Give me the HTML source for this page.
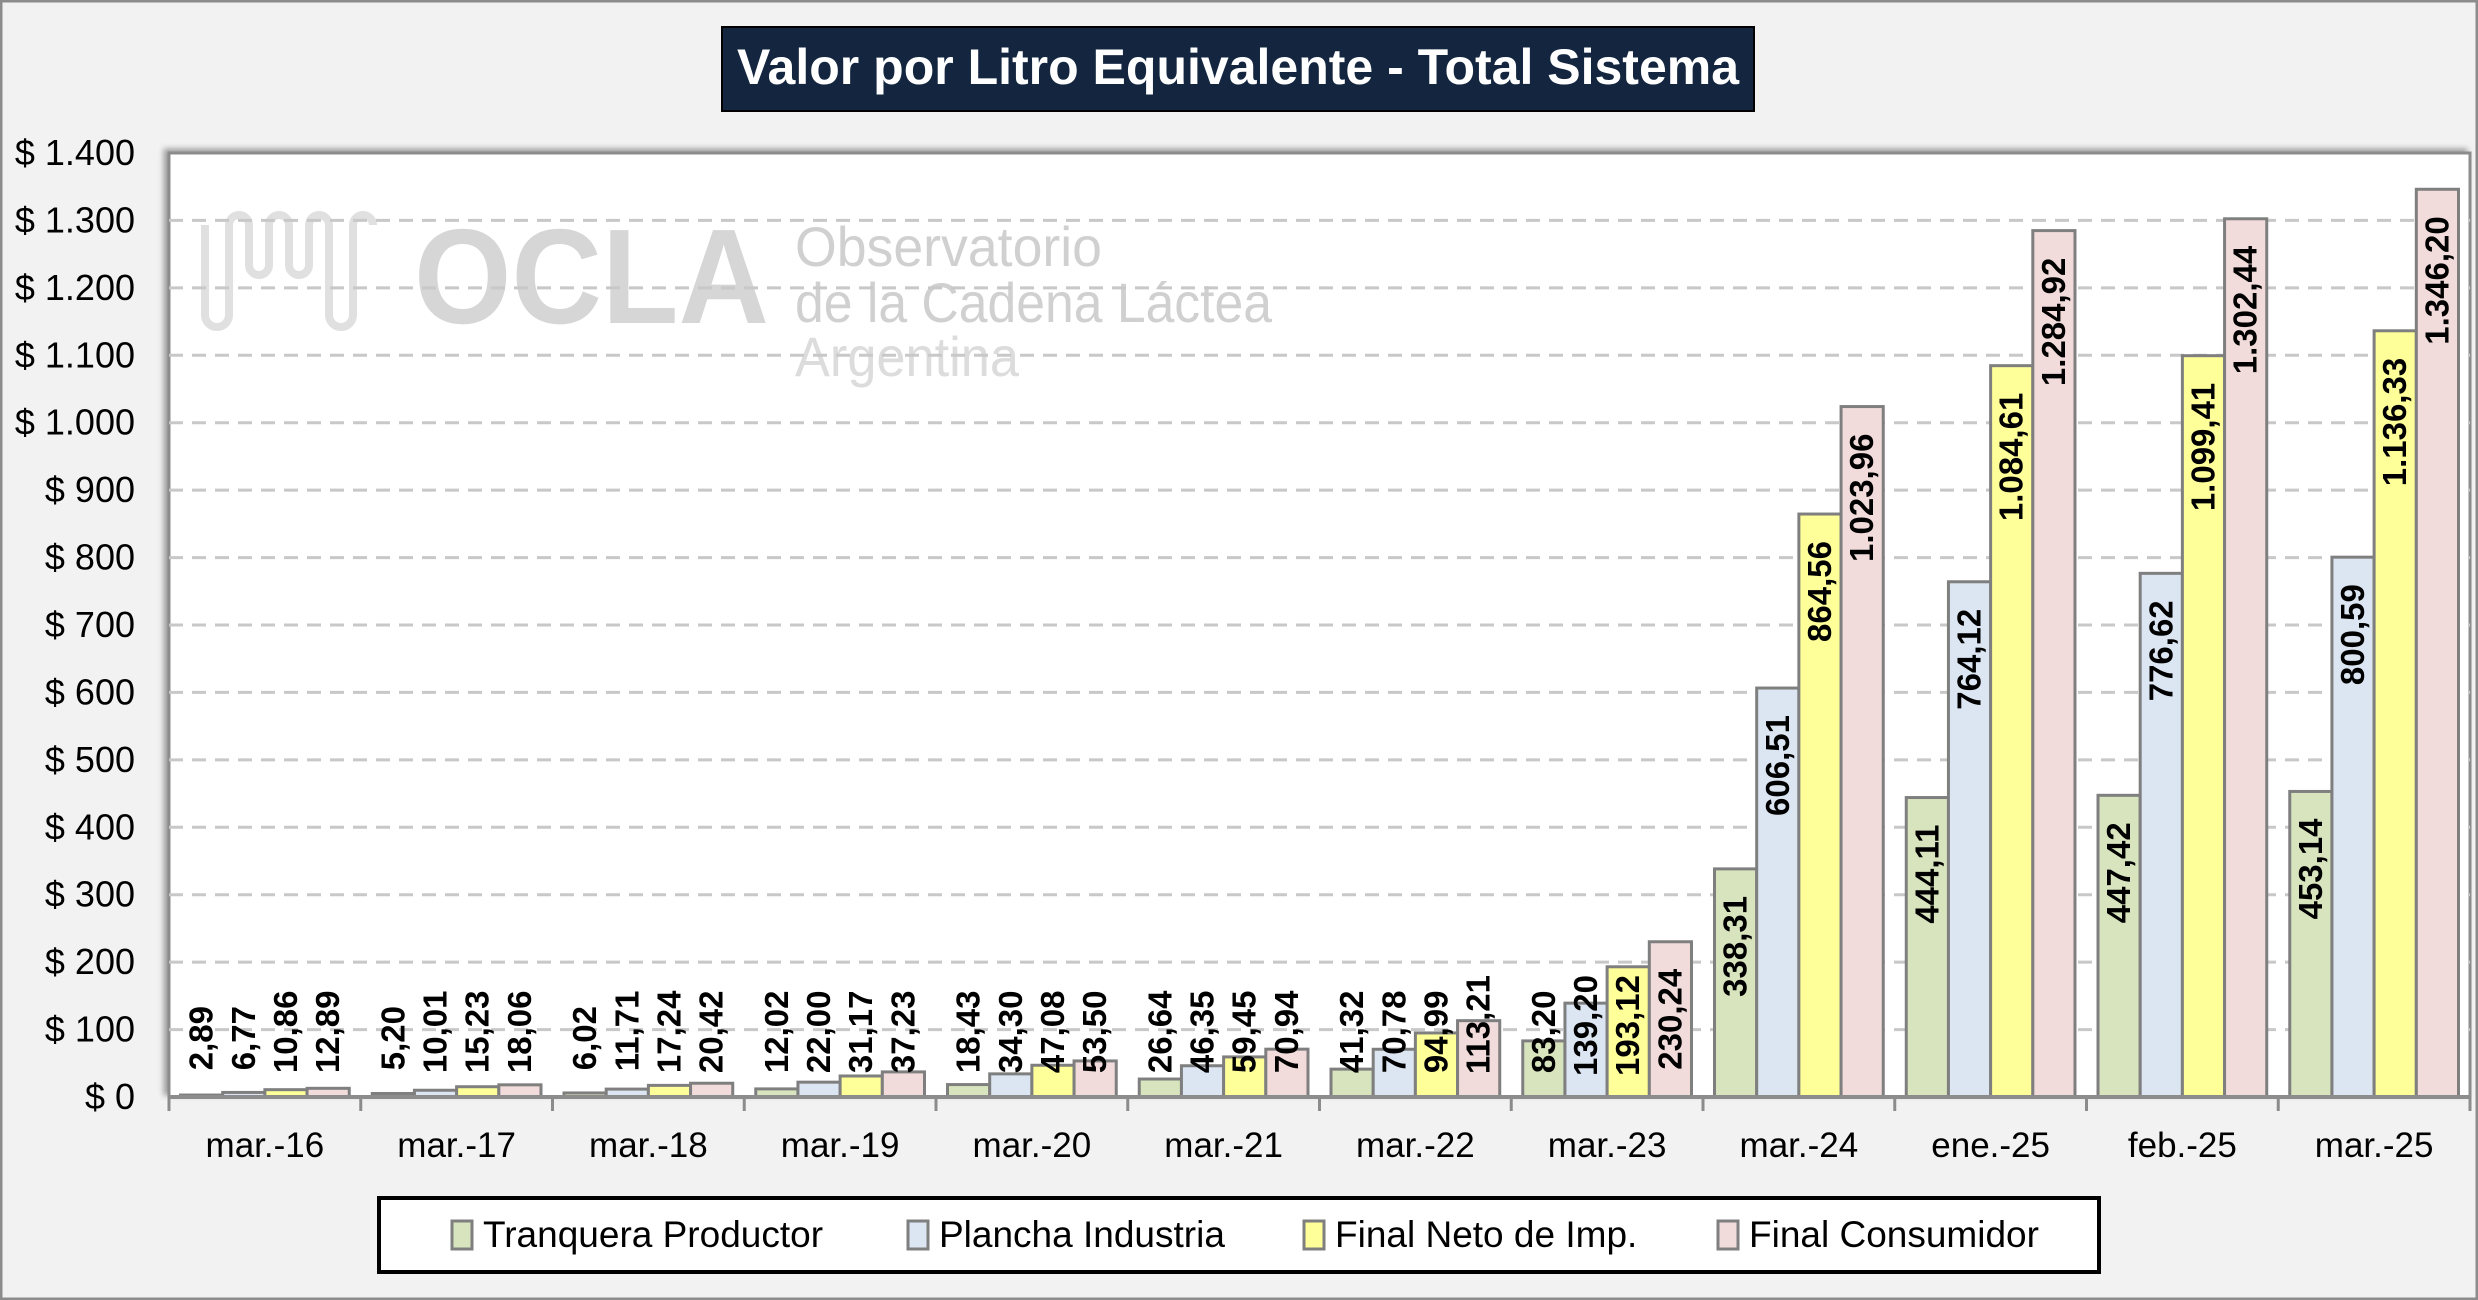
<!DOCTYPE html>
<html><head><meta charset="utf-8"><style>
html,body{margin:0;padding:0;background:#f2f2f2}
svg{display:block}
text{font-family:"Liberation Sans Narrow","Liberation Sans",sans-serif}
</style></head><body>
<svg id="chart" width="2478" height="1300" viewBox="0 0 2478 1300" xmlns="http://www.w3.org/2000/svg">
<defs><filter id="sh" x="-5%" y="-5%" width="110%" height="110%"><feDropShadow dx="-4" dy="-3" stdDeviation="3" flood-color="#000" flood-opacity="0.35"/></filter></defs>
<rect x="1" y="1" width="2476" height="1298" fill="#f2f2f2" stroke="#8c8c8c" stroke-width="3"/>
<g>
<rect x="722" y="27" width="1032" height="84" fill="#13253f" stroke="#000" stroke-width="2"/>
<text x="1238" y="84" text-anchor="middle" fill="#fff" font-size="50" font-weight="bold">Valor por Litro Equivalente - Total Sistema</text>
</g>
<rect x="169" y="153" width="2301" height="944" fill="#fff" stroke="#8c8c8c" stroke-width="3" filter="url(#sh)"/>
<g id="watermark" fill="#d9d9d9">
<path d="M205 225 v90 a12 12 0 0 0 24 0 v-90 a10 10 0 0 1 20 0 v40 a10 10 0 0 0 20 0 v-40 a10 10 0 0 1 20 0 v40 a10 10 0 0 0 20 0 v-40 a10 10 0 0 1 20 0 v90 a12 12 0 0 0 24 0 v-90 a10 10 0 0 1 20 0" fill="none" stroke="#e0e0e0" stroke-width="8"/>
<text x="414" y="323" font-size="135" font-weight="bold" font-family="Liberation Sans,sans-serif" fill="#d6d6d6" textLength="355" lengthAdjust="spacingAndGlyphs">OCLA</text>
<text x="795" y="266" font-size="56" fill="#d0d0d0" textLength="307" lengthAdjust="spacingAndGlyphs">Observatorio</text>
<text x="795" y="322" font-size="56" fill="#d0d0d0" textLength="477" lengthAdjust="spacingAndGlyphs">de la Cadena Láctea</text>
<text x="795" y="376" font-size="56" fill="#dcdcdc" textLength="224" lengthAdjust="spacingAndGlyphs">Argentina</text>
</g>
<g id="grid"></g><g id="bars"></g><g id="labels"></g><g id="axes"></g>
<g>
<rect x="379" y="1198" width="1720" height="74" fill="#fff" stroke="#000" stroke-width="4"/>
<g><rect x="452" y="1221" width="20" height="28" fill="#d7e4bd" stroke="#7f7f7f" stroke-width="3"/><text x="483" y="1247" font-size="37">Tranquera Productor</text></g>
<g><rect x="908" y="1221" width="20" height="28" fill="#dce6f2" stroke="#7f7f7f" stroke-width="3"/><text x="939" y="1247" font-size="37">Plancha Industria</text></g>
<g><rect x="1304" y="1221" width="20" height="28" fill="#ffff99" stroke="#7f7f7f" stroke-width="3"/><text x="1335" y="1247" font-size="37">Final Neto de Imp.</text></g>
<g><rect x="1718" y="1221" width="20" height="28" fill="#f2dcdb" stroke="#7f7f7f" stroke-width="3"/><text x="1749" y="1247" font-size="37">Final Consumidor</text></g>
</g>
</svg>
<script>
const categories = ["mar.-16","mar.-17","mar.-18","mar.-19","mar.-20","mar.-21","mar.-22","mar.-23","mar.-24","ene.-25","feb.-25","mar.-25"];
const tranquera = [2.89,5.20,6.02,12.02,18.43,26.64,41.32,83.20,338.31,444.11,447.42,453.14];
const plancha = [6.77,10.01,11.71,22.00,34.30,46.35,70.78,139.20,606.51,764.12,776.62,800.59];
const finalNeto = [10.86,15.23,17.24,31.17,47.08,59.45,94.99,193.12,864.56,1084.61,1099.41,1136.33];
const finalConsumidor = [12.89,18.06,20.42,37.23,53.50,70.94,113.21,230.24,1023.96,1284.92,1302.44,1346.20];
const yTicks = [0,100,200,300,400,500,600,700,800,900,1000,1100,1200,1300,1400];
const seriesNames = ["tranquera","plancha","final-neto","final-consumidor"];
const seriesData = [tranquera, plancha, finalNeto, finalConsumidor];
const colors = ["#d7e4bd","#dce6f2","#ffff99","#f2dcdb"];

const NS="http://www.w3.org/2000/svg";
const L=169,R=2470,T=153,B=1097,yMax=1400;
const cw=(R-L)/categories.length;
const y=v=>B-(v/yMax)*(B-T);
const xc=i=>L+i*cw;
const fmt=v=>{let s=v.toFixed(2).split(".");s[0]=s[0].replace(/\B(?=(\d{3})+(?!\d))/g,".");return s[0]+","+s[1];};
function mk(tag,attrs,parent){const e=document.createElementNS(NS,tag);for(const k in attrs)e.setAttribute(k,attrs[k]);parent.appendChild(e);return e;}
const grid=document.getElementById("grid"),bars=document.getElementById("bars"),labels=document.getElementById("labels"),axes=document.getElementById("axes");
yTicks.forEach(t=>{
  if(t>0&&t<yMax){const g=mk("line",{x1:L,x2:R,y1:y(t),y2:y(t),stroke:"#c8c8c8","stroke-width":3,"stroke-dasharray":"14 9"},grid);
  
  }
  const tx=mk("text",{x:135,y:y(t)+12,"text-anchor":"end","font-size":36},axes);
  tx.textContent="$ "+t.toLocaleString("de-DE");
  
  
});
const bw=cw*0.22;
categories.forEach((c,i)=>{
  seriesData.forEach((arr,s)=>{
    const v=arr[i],x=xc(i)+cw*0.06+s*bw,top=y(v);
    const r=mk("rect",{x:x,y:top,width:bw,height:B-top,fill:colors[s],stroke:"#7f7f7f","stroke-width":3},bars);
    
    
    const txt=fmt(v);
    const len=txt.length*15.5+4;
    const textTop=Math.min(top+27,B-25-len);
    const cx=x+bw/2+11;
    const t=mk("text",{x:cx,y:textTop,"text-anchor":"end","font-size":33,"font-weight":"bold",transform:`rotate(-90 ${cx} ${textTop})`},labels);
    t.textContent=txt;
    
    
  });
  const tk=mk("line",{x1:xc(i),x2:xc(i),y1:B,y2:B+14,stroke:"#8c8c8c","stroke-width":3},axes);
  
  
  const lb=mk("text",{x:xc(i)+cw/2,y:1157,"text-anchor":"middle","font-size":35},axes);
  lb.textContent=c;
  
  
});
const tkEnd=mk("line",{x1:R,x2:R,y1:B,y2:B+14,stroke:"#8c8c8c","stroke-width":3},axes);


const ax=mk("line",{x1:L,x2:R,y1:B,y2:B,stroke:"#8c8c8c","stroke-width":4},axes);


</script>
</body></html>
